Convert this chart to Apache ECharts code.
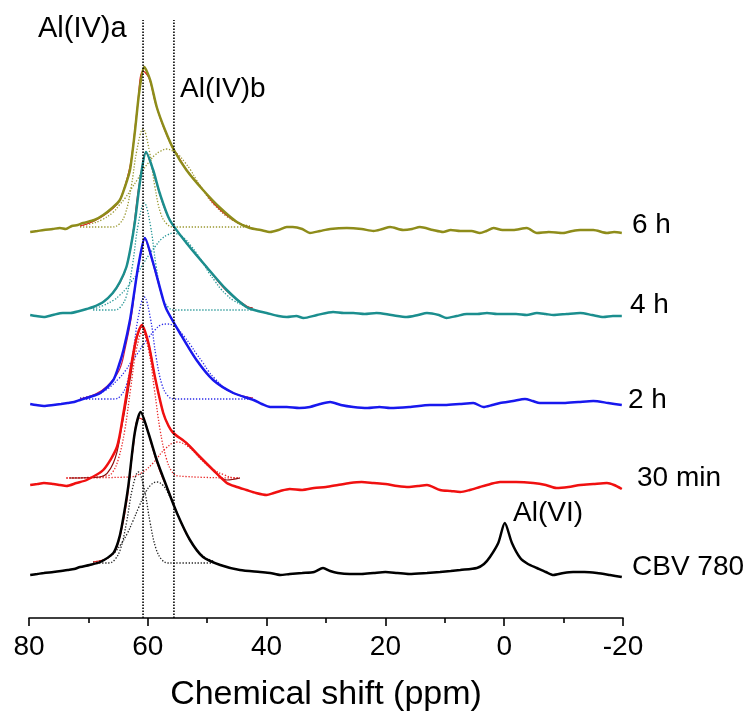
<!DOCTYPE html>
<html lang="en">
<head>
<meta charset="utf-8">
<title>27Al MAS NMR spectra</title>
<script src="https://cdn.jsdelivr.net/npm/echarts@6/dist/echarts.min.js"></script>
<style>
  html, body { margin: 0; padding: 0; background: #fff; }
  #main { width: 748px; height: 719px; }
</style>
</head>
<body>
<div id="main"></div>
<script>
// [ppm, intensity a.u.] - spectra are already stacked
var trace6h = [[79.8,386],[78.6,387],[77.5,388],[76.0,389],[74.8,390],[73.8,389],[72.8,392],[71.8,393],[70.9,395],[69.0,398],[67.5,403],[66.0,410],[64.7,418],[63.8,432],[63.0,448],[62.2,485],[61.4,528],[60.6,551],[59.6,538],[58.5,511],[57.1,488],[55.6,468],[53.5,448],[50.7,428],[47.8,410],[45.0,396],[42.8,390],[41.0,388],[39.4,386],[38.0,388],[36.6,391],[35.6,391],[34.0,389],[32.7,385],[31.0,387],[29.3,389],[26.5,390],[24.0,389],[22.0,387],[20.5,389],[19.2,391],[17.0,388],[15.5,389],[14.2,391],[12.0,388],[10.3,386],[9.0,388],[7.4,387],[5.5,387],[4.1,385],[3.0,387],[1.8,390],[0.3,388],[-1.5,388],[-3.8,390],[-5.5,385],[-7.5,386],[-9.9,385],[-11.5,387],[-12.8,388],[-15.0,388],[-17.3,385],[-18.5,386],[-19.8,385]];
var trace4h = [[79.8,303],[78.8,302],[77.5,301],[76.0,303],[74.3,305],[73.0,305],[71.5,307],[70.3,309],[69.2,311],[67.5,316],[65.9,325],[64.7,336],[63.6,351],[62.9,370],[62.2,395],[61.2,441],[60.3,466],[59.1,448],[58.0,425],[56.3,398],[53.5,375],[50.1,351],[46.7,328],[43.4,311],[41.5,307],[40.0,305],[38.0,302],[36.6,301],[35.0,302],[33.8,300],[31.5,303],[28.8,306],[27.0,305],[25.4,305],[23.5,304],[21.5,305],[19.0,303],[16.4,301],[14.5,303],[13.0,305],[11.0,303],[9.7,300],[8.0,302],[6.3,304],[4.5,304],[2.9,305],[1.2,304],[-0.4,304],[-2.0,304],[-3.8,303],[-5.5,305],[-7.0,304],[-8.3,303],[-10.5,304],[-12.8,305],[-14.8,303],[-16.7,301],[-18.3,302],[-19.8,302]];
var trace2h = [[79.8,214],[78.8,213],[77.5,212],[75.9,213],[74.6,214],[73.5,215],[72.4,216],[71.4,218],[69.8,221],[68.0,225],[65.8,238],[64.9,252],[64.1,268],[63.0,298],[62.3,325],[61.6,352],[60.5,380],[59.1,355],[57.4,318],[56.8,308],[54.6,285],[51.8,258],[49.0,238],[45.6,225],[42.2,218],[40.8,214],[39.4,211],[38.0,211],[36.6,211],[34.5,210],[32.7,211],[31.0,214],[29.3,216],[27.5,213],[25.4,211],[23.0,210],[21.0,211],[19.2,210],[16.0,211],[12.5,213],[10.0,213],[7.5,214],[5.2,215],[3.5,211],[2.0,213],[0.7,215],[-1.5,217],[-3.5,219],[-4.8,217],[-6.0,215],[-8.0,215],[-10.0,215],[-12.5,216],[-15.0,217],[-17.5,215],[-19.8,213]];
var trace30min = [[79.8,133],[78.6,134],[77.5,135],[75.9,134],[74.8,133],[73.7,132],[72.0,135],[70.3,138],[67.5,148],[65.2,171],[64.1,205],[63.0,245],[62.0,278],[61.0,293],[59.9,275],[58.8,241],[57.4,205],[56.5,192],[55.7,185],[53.5,175],[51.2,161],[49.0,148],[46.7,135],[45.0,131],[43.4,128],[41.8,125],[40.0,123],[38.8,125],[37.7,127],[36.1,129],[34.0,128],[32.0,130],[30.0,131],[28.0,133],[26.0,135],[24.0,136],[22.0,135],[20.0,134],[18.0,132],[16.0,131],[14.5,132],[13.0,133],[10.8,128],[9.0,127],[7.4,126],[5.8,128],[4.1,131],[2.3,134],[0.7,136],[-2.0,136],[-4.9,135],[-7.0,133],[-8.8,130],[-10.8,131],[-12.8,133],[-15.0,134],[-17.3,135],[-18.5,133],[-19.8,129]];
var traceCBV = [[79.8,43],[78.6,44],[77.5,45],[75.9,46],[74.6,47],[73.5,48],[72.4,49],[71.4,51],[69.8,53],[68.0,56],[65.8,65],[65.0,76],[64.4,91],[63.3,131],[62.2,185],[61.2,206],[59.9,185],[58.5,158],[56.8,131],[55.1,105],[52.9,78],[50.7,61],[47.8,53],[44.5,48],[41.1,46],[39.4,45],[37.7,43],[36.1,44],[34.0,45],[32.0,46],[30.5,50],[29.3,47],[28.0,45],[26.0,44],[24.0,44],[22.0,45],[20.0,46],[18.0,45],[16.0,44],[13.0,45],[10.8,46],[9.0,47],[7.4,48],[4.6,50],[3.4,54],[2.4,61],[1.0,75],[-0.1,95],[-1.3,75],[-2.7,60],[-4.0,54],[-5.5,50],[-7.0,46],[-8.3,43],[-10.0,45],[-11.6,46],[-13.5,46],[-15.6,45],[-17.8,43],[-19.8,41]];

// fitted components Al(IV)a / Al(IV)b and their sum
var compA6h = [[71.4,391],[66.0,391],[64.8,394],[63.8,404],[62.8,431],[61.8,469],[60.8,489],[59.8,469],[58.8,431],[57.8,404],[56.8,394],[55.8,391],[42.8,391]];
var compB6h = [[71.4,392],[69.8,394],[67.8,398],[65.8,406],[64.8,413],[63.8,420],[62.8,429],[61.8,438],[60.8,448],[59.8,456],[58.8,463],[57.8,467],[56.8,469],[55.8,467],[54.8,463],[53.8,456],[52.8,448],[51.8,438],[50.8,429],[49.8,420],[48.8,413],[46.8,402],[44.8,395],[42.8,392]];
var fit6h = [[71.4,392],[69.8,395],[67.8,401],[65.8,410],[64.8,417],[63.8,433],[62.8,458],[61.8,508],[60.8,547],[59.8,540],[58.8,517],[57.8,498],[56.8,483],[55.8,470],[54.8,461],[53.8,451],[52.8,443],[51.8,436],[50.8,429],[49.8,421],[48.8,414],[46.8,403],[44.8,395],[42.8,391]];

var compA4h = [[69.2,308],[65.6,308],[64.6,311],[63.6,322],[62.6,352],[61.6,394],[60.6,415],[59.6,394],[58.6,352],[57.6,322],[56.6,311],[55.6,308],[42.3,308]];
var compB4h = [[69.2,309],[67.7,312],[65.7,318],[64.7,323],[63.7,329],[62.7,337],[61.7,345],[60.7,355],[59.7,364],[58.7,372],[57.7,379],[56.7,383],[55.7,385],[54.7,383],[53.7,379],[52.7,372],[51.7,364],[50.7,355],[49.7,345],[48.7,337],[47.7,329],[46.7,323],[45.7,318],[43.7,312],[42.3,310]];
var fit4h = [[69.2,311],[67.5,316],[65.9,325],[64.7,335],[63.6,351],[62.6,381],[61.6,428],[60.6,462],[60.3,465],[59.6,456],[59.1,447],[58.0,424],[56.3,398],[53.5,375],[50.1,351],[46.7,327],[43.4,312],[42.3,310]];

var compA2h = [[71.4,219],[65.6,219],[64.6,222],[63.6,233],[62.6,261],[61.6,301],[60.6,321],[59.6,301],[58.6,261],[57.6,233],[56.6,222],[55.6,219],[42.3,219]];
var compB2h = [[71.4,220],[68.8,223],[66.8,229],[64.8,240],[63.8,247],[62.8,256],[61.8,264],[60.8,273],[59.8,281],[58.8,288],[57.8,293],[56.8,294],[55.8,293],[54.8,288],[53.8,281],[52.8,273],[51.8,264],[50.8,256],[49.8,247],[48.8,240],[46.8,229],[44.8,223],[42.3,220]];
var fit2h = [[71.4,219],[68.8,224],[66.8,232],[64.8,248],[63.8,270],[62.8,300],[61.8,345],[60.8,375],[60.5,379],[59.8,368],[59.1,354],[57.8,326],[56.8,308],[54.6,285],[51.8,258],[49.0,238],[45.6,225],[42.3,220]];

var compA30 = [[73.7,140],[66.9,142],[65.9,146],[64.9,160],[63.9,187],[62.9,229],[61.9,269],[60.9,286],[59.9,269],[58.9,229],[57.9,187],[56.9,160],[55.9,146],[54.9,142],[44.5,140]];
var compB30 = [[73.7,140],[63.1,141],[61.1,145],[59.1,155],[57.1,169],[55.1,176],[53.1,171],[51.1,159],[49.1,149],[47.1,143],[45.1,140],[44.5,140]];
var fit30 = [[73.1,140],[68.0,141],[65.8,155],[64.4,191],[63.0,238],[61.9,278],[61.0,291],[59.9,275],[58.8,241],[57.4,205],[56.5,192],[55.7,185],[53.5,175],[51.2,161],[49.0,148],[46.7,138],[44.5,140]];

var compACBV = [[69.2,55],[66.6,55],[65.6,58],[64.6,69],[63.6,95],[62.6,129],[61.6,146],[60.6,129],[59.6,95],[58.6,69],[57.6,58],[56.6,55],[49.0,55]];
var compBCBV = [[69.2,56],[67.5,58],[66.5,61],[65.5,66],[64.5,74],[63.5,84],[62.5,97],[61.5,111],[60.5,124],[59.5,133],[58.5,136],[57.5,133],[56.5,124],[55.5,111],[54.5,97],[53.5,84],[52.5,74],[51.5,66],[50.5,61],[49.5,58],[49.0,57]];
var fitCBV = [[69.2,56],[67.5,58],[66.5,61],[65.5,67],[64.5,86],[63.5,118],[62.5,168],[61.5,200],[60.5,196],[59.5,176],[58.5,156],[57.5,140],[56.5,127],[55.5,111],[54.5,97],[53.5,84],[52.5,74],[51.5,66],[50.5,60],[49.0,56]];

var sampleNames = ['CBV 780', '30 min', '2 h', '4 h', '6 h'];
var siteLines = [60.8, 55.6];   // Al(IV)a, Al(IV)b
var xTicks = [80, 60, 40, 20, 0, -20];

var colors = ['#000000', '#f01010', '#1818ee', '#1b8e8e', '#8e8c1a'];
var dotColors = ['#222222', '#e82828', '#2a2ae8', '#259696', '#9a9830'];
var fitColors = ['#e01818', '#8b0a0a', '#d01840', '#e01818', '#e01818'];

var traces = [traceCBV, trace30min, trace2h, trace4h, trace6h];
var compsA = [compACBV, compA30, compA2h, compA4h, compA6h];
var compsB = [compBCBV, compB30, compB2h, compB4h, compB6h];
var fits = [fitCBV, fit30, fit2h, fit4h, fit6h];

var FONT = '"Liberation Sans", Arial, sans-serif';

var series = [];
for (var i = 0; i < traces.length; i++) {
    series.push({
        type: 'line', data: compsA[i], showSymbol: false, smooth: 0.4, z: 1, silent: true,
        lineStyle: { color: dotColors[i], width: 1.3, type: [1.3, 1.7] }
    });
    series.push({
        type: 'line', data: compsB[i], showSymbol: false, smooth: 0.4, z: 1, silent: true,
        lineStyle: { color: dotColors[i], width: 1.3, type: [1.3, 1.7] }
    });
    series.push({
        type: 'line', data: fits[i], showSymbol: false, smooth: 0.4, z: 2, silent: true,
        lineStyle: { color: fitColors[i], width: 1.2 }
    });
    series.push({
        type: 'line', name: sampleNames[i], data: traces[i], showSymbol: false, smooth: 0.25, z: 3, silent: true,
        lineStyle: { color: colors[i], width: 2.5 }
    });
}
siteLines.forEach(function (p) {
    series.push({
        type: 'line', data: [[p, 0], [p, 598]], showSymbol: false, z: 5, silent: true,
        lineStyle: { color: '#000', width: 1.6, type: [1.5, 1.5] }
    });
});

// text annotations
var labelPos = [[632, 567], [637, 478], [628, 400], [630, 305], [632, 225]];
var graphic = sampleNames.map(function (n, i) {
    return { type: 'text', x: labelPos[i][0], y: labelPos[i][1],
        style: { text: n, font: '28px ' + FONT, fill: '#000', verticalAlign: 'middle' } };
});
graphic.push({ type: 'text', x: 38, y: 29, style: { text: 'Al(IV)a', font: '29px ' + FONT, fill: '#000', verticalAlign: 'middle' } });
graphic.push({ type: 'text', x: 180, y: 89, style: { text: 'Al(IV)b', font: '28px ' + FONT, fill: '#000', verticalAlign: 'middle' } });
graphic.push({ type: 'text', x: 513, y: 513, style: { text: 'Al(VI)', font: '28px ' + FONT, fill: '#000', verticalAlign: 'middle' } });

var chart = echarts.init(document.getElementById('main'));
chart.setOption({
    animation: false,
    backgroundColor: '#fff',
    grid: { left: 29, right: 125, top: 18, bottom: 101 },
    xAxis: {
        type: 'value', inverse: true, min: -20, max: 80, interval: 20,
        name: 'Chemical shift (ppm)', nameLocation: 'middle', nameGap: 60,
        nameTextStyle: { fontFamily: FONT, fontSize: 34, color: '#000' },
        axisLine: { lineStyle: { color: '#000', width: 1.6 } },
        axisTick: { length: 8, lineStyle: { color: '#000', width: 1.6 } },
        minorTick: { show: true, splitNumber: 2, length: 5, lineStyle: { color: '#000', width: 1.6 } },
        splitLine: { show: false },
        axisLabel: {
            fontFamily: FONT, fontSize: 28, color: '#000', margin: 15,
            formatter: function (v) { return xTicks.indexOf(v) >= 0 ? String(v) : ''; }
        }
    },
    yAxis: { type: 'value', min: 0, max: 600, show: false },
    graphic: graphic,
    series: series
});
</script>
</body>
</html>
